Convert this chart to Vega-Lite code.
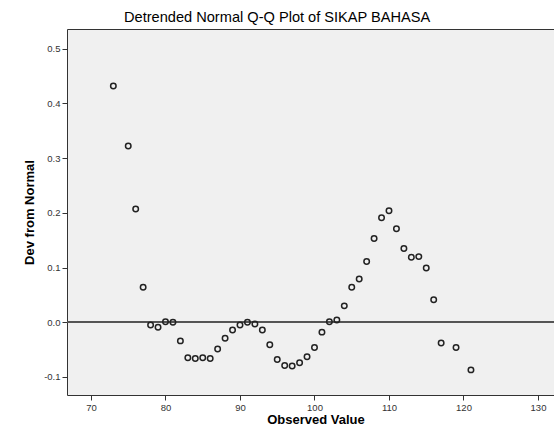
{
  "$schema": "https://vega.github.io/schema/vega-lite/v6.json",
  "autosize": {"type": "none"},
  "padding": {"left": 67, "top": 29, "right": 0, "bottom": 48},
  "width": 497,
  "height": 366,
  "background": "#ffffff",
  "title": {
    "text": "Detrended Normal Q-Q Plot of SIKAP BAHASA",
    "anchor": "start",
    "frame": "group",
    "dx": 57,
    "font": "Liberation Sans",
    "fontSize": 14.6,
    "fontWeight": "normal",
    "color": "#000000",
    "offset": 4
  },
  "config": {
    "view": {"fill": "#f0f0f0", "stroke": "#333333", "strokeWidth": 1},
    "axis": {
      "domain": false,
      "grid": false,
      "tickColor": "#333333",
      "tickSize": 5,
      "labelFont": "Liberation Sans",
      "labelFontSize": 9.5,
      "labelColor": "#333333",
      "labelPadding": 2,
      "titleFont": "Liberation Sans",
      "titleFontSize": 13,
      "titleFontWeight": "bold",
      "titleColor": "#000000"
    }
  },
  "data": {
    "values": [
      {"obs": 73, "dev": 0.432},
      {"obs": 75, "dev": 0.322},
      {"obs": 76, "dev": 0.207},
      {"obs": 77, "dev": 0.064},
      {"obs": 78, "dev": -0.005},
      {"obs": 79, "dev": -0.009},
      {"obs": 80, "dev": 0.001},
      {"obs": 81, "dev": 0.0},
      {"obs": 82, "dev": -0.034},
      {"obs": 83, "dev": -0.065},
      {"obs": 84, "dev": -0.066},
      {"obs": 85, "dev": -0.065},
      {"obs": 86, "dev": -0.066},
      {"obs": 87, "dev": -0.049},
      {"obs": 88, "dev": -0.029},
      {"obs": 89, "dev": -0.014},
      {"obs": 90, "dev": -0.005},
      {"obs": 91, "dev": 0.0},
      {"obs": 92, "dev": -0.003},
      {"obs": 93, "dev": -0.014},
      {"obs": 94, "dev": -0.041},
      {"obs": 95, "dev": -0.068},
      {"obs": 96, "dev": -0.079},
      {"obs": 97, "dev": -0.080},
      {"obs": 98, "dev": -0.074},
      {"obs": 99, "dev": -0.063},
      {"obs": 100, "dev": -0.046},
      {"obs": 101, "dev": -0.018},
      {"obs": 102, "dev": 0.001},
      {"obs": 103, "dev": 0.004},
      {"obs": 104, "dev": 0.030},
      {"obs": 105, "dev": 0.064},
      {"obs": 106, "dev": 0.079},
      {"obs": 107, "dev": 0.111},
      {"obs": 108, "dev": 0.153},
      {"obs": 109, "dev": 0.191},
      {"obs": 110, "dev": 0.204},
      {"obs": 111, "dev": 0.171},
      {"obs": 112, "dev": 0.135},
      {"obs": 113, "dev": 0.119},
      {"obs": 114, "dev": 0.120},
      {"obs": 115, "dev": 0.099},
      {"obs": 116, "dev": 0.041},
      {"obs": 117, "dev": -0.038},
      {"obs": 119, "dev": -0.046},
      {"obs": 121, "dev": -0.087}
    ]
  },
  "layer": [
    {
      "mark": {"type": "rule", "color": "#555555", "strokeWidth": 1.5},
      "encoding": {
        "y": {"datum": 0, "type": "quantitative", "scale": {"domain": [-0.1329, 0.536], "nice": false, "zero": false}}
      }
    },
    {
      "mark": {"type": "point", "shape": "circle", "filled": false, "stroke": "#222222", "strokeWidth": 1.5, "size": 30, "opacity": 1},
      "encoding": {
        "x": {
          "field": "obs",
          "type": "quantitative",
          "title": "Observed Value",
          "scale": {"domain": [66.78, 133.49], "nice": false, "zero": false},
          "axis": {"values": [70, 80, 90, 100, 110, 120, 130], "format": "d", "titlePadding": 2}
        },
        "y": {
          "field": "dev",
          "type": "quantitative",
          "title": "Dev from Normal",
          "scale": {"domain": [-0.1329, 0.536], "nice": false, "zero": false},
          "axis": {
            "values": [-0.1, 0, 0.1, 0.2, 0.3, 0.4, 0.5],
            "labelExpr": "datum.value < 0 ? '-' + format(-datum.value, '.1f') : format(datum.value, '.1f')",
            "titlePadding": 7
          }
        }
      }
    }
  ]
}
